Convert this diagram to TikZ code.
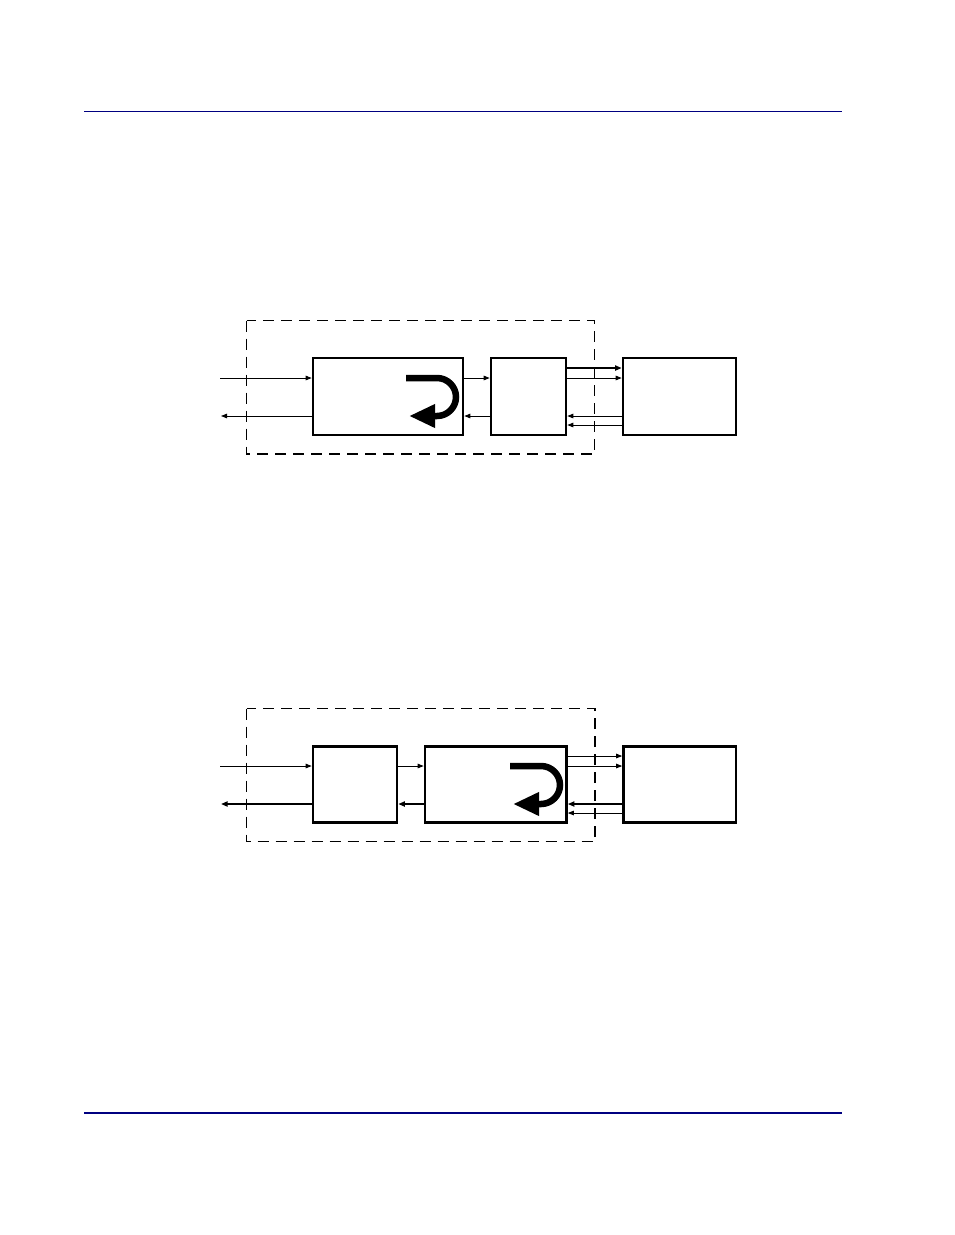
\documentclass[tikz,border=0pt]{standalone}
\usepackage{tikz}
\usetikzlibrary{arrows.meta}
\usetikzlibrary{positioning}
\usetikzlibrary{calc}
\definecolor{rulenavy}{RGB}{0,0,128}

\tikzset{
  blk/.style={draw, line width=2.6pt, inner sep=0pt},
  sig/.style={-{Triangle[length=6pt,width=4.5pt]}, line width=0.9pt},
  bigsig/.style={-{Triangle[length=6.5pt,width=5pt]}, line width=1.9pt},
  frame/.style={dash pattern=on 11pt off 7pt, line width=1.4pt},
  uturn/.style={-{Triangle[length=26pt,width=22pt]}, line width=6.5pt}
}

\begin{document}
\begin{tikzpicture}[x=1pt, y=-1pt]

  \useasboundingbox (0,0) rectangle (954,1235);

  % page rules
  \draw[rulenavy, line width=1pt] (84,111.3) -- (842,111.3);
  \draw[rulenavy, line width=2pt] (84,1112.7) -- (842,1112.7);

  % first diagram
  \draw[frame] (246.5,320.5) rectangle (594.5,454);
  \foreach \name/\cx/\w in {a1/388/150, b1/528.5/75, c1/679.5/113}
    \node[blk, minimum width=\w, minimum height=77] (\name) at (\cx,396.5) {};

  \coordinate (in1) at (220,378);
  \coordinate (out1) at (221,416);
  \draw[sig] (in1) -- (a1.west |- in1);
  \draw[sig] (a1.west |- out1) -- (out1);
  \draw[sig] (a1.east |- 0,378) -- (b1.west |- 0,378);
  \draw[sig] (b1.west |- 0,416) -- (a1.east |- 0,416);
  \draw[bigsig] (b1.east |- 0,368) -- (c1.west |- 0,368);
  \draw[sig] (b1.east |- 0,378) -- (c1.west |- 0,378);
  \foreach \y in {416,425}
    \draw[sig] (c1.west |- 0,\y) -- (b1.east |- 0,\y);

  \draw[uturn] (406,378) -- (437,378) arc[start angle=-90, end angle=90, radius=19] -- (409,416);

  % second diagram
  \draw[frame, line width=1.2pt] (246.5,708.5) rectangle (595,841.5);
  \foreach \name/\cx/\w in {a2/355/84, b2/495.75/141.5, c2/679.75/112.5}
    \node[blk, minimum width=\w, minimum height=76] (\name) at (\cx,784.5) {};

  \coordinate (in2) at (220,766);
  \coordinate (out2) at (221,804);
  \draw[sig] (in2) -- (a2.west |- in2);
  \draw[bigsig] (a2.west |- out2) -- (out2);
  \draw[sig] (a2.east |- 0,766) -- (b2.west |- 0,766);
  \draw[bigsig] (b2.west |- 0,804) -- (a2.east |- 0,804);
  \foreach \y in {756,766}
    \draw[sig] (b2.east |- 0,\y) -- (c2.west |- 0,\y);
  \draw[bigsig] (c2.west |- 0,804) -- (b2.east |- 0,804);
  \draw[sig] (c2.west |- 0,813) -- (b2.east |- 0,813);

  \draw[uturn] (510,766) -- (541,766) arc[start angle=-90, end angle=90, radius=19] -- (513,804);

\end{tikzpicture}
\end{document}
